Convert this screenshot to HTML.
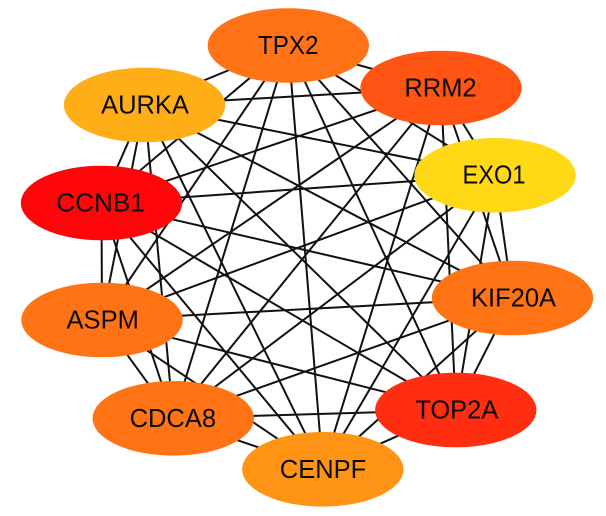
<!DOCTYPE html>
<html>
<head>
<meta charset="utf-8">
<style>
html,body{margin:0;padding:0;background:#fff;width:606px;height:516px;overflow:hidden}
svg{display:block}
text{font-family:"Liberation Sans",Arial,sans-serif;font-size:25.5px;fill:#0a0a0a;text-anchor:middle}
line{stroke:#111;stroke-width:2}
</style>
</head>
<body>
<svg width="606" height="516" viewBox="0 0 606 516" xmlns="http://www.w3.org/2000/svg">
<g>
<line x1="288.3" y1="45.5" x2="441" y2="88"/>
<line x1="288.3" y1="45.5" x2="495" y2="175.3"/>
<line x1="288.3" y1="45.5" x2="512.5" y2="298"/>
<line x1="288.3" y1="45.5" x2="455.8" y2="410"/>
<line x1="288.3" y1="45.5" x2="322.8" y2="469.3"/>
<line x1="288.3" y1="45.5" x2="173.3" y2="418.3"/>
<line x1="288.3" y1="45.5" x2="102" y2="320"/>
<line x1="288.3" y1="45.5" x2="101.5" y2="203"/>
<line x1="288.3" y1="45.5" x2="144.5" y2="105"/>
<line x1="441" y1="88" x2="495" y2="175.3"/>
<line x1="441" y1="88" x2="512.5" y2="298"/>
<line x1="441" y1="88" x2="455.8" y2="410"/>
<line x1="441" y1="88" x2="322.8" y2="469.3"/>
<line x1="441" y1="88" x2="173.3" y2="418.3"/>
<line x1="441" y1="88" x2="102" y2="320"/>
<line x1="441" y1="88" x2="101.5" y2="203"/>
<line x1="441" y1="88" x2="144.5" y2="105"/>
<line x1="495" y1="175.3" x2="512.5" y2="298"/>
<line x1="495" y1="175.3" x2="455.8" y2="410"/>
<line x1="495" y1="175.3" x2="322.8" y2="469.3"/>
<line x1="495" y1="175.3" x2="173.3" y2="418.3"/>
<line x1="495" y1="175.3" x2="102" y2="320"/>
<line x1="495" y1="175.3" x2="101.5" y2="203"/>
<line x1="495" y1="175.3" x2="144.5" y2="105"/>
<line x1="512.5" y1="298" x2="455.8" y2="410"/>
<line x1="512.5" y1="298" x2="322.8" y2="469.3"/>
<line x1="512.5" y1="298" x2="173.3" y2="418.3"/>
<line x1="512.5" y1="298" x2="102" y2="320"/>
<line x1="512.5" y1="298" x2="101.5" y2="203"/>
<line x1="512.5" y1="298" x2="144.5" y2="105"/>
<line x1="455.8" y1="410" x2="322.8" y2="469.3"/>
<line x1="455.8" y1="410" x2="173.3" y2="418.3"/>
<line x1="455.8" y1="410" x2="102" y2="320"/>
<line x1="455.8" y1="410" x2="101.5" y2="203"/>
<line x1="455.8" y1="410" x2="144.5" y2="105"/>
<line x1="322.8" y1="469.3" x2="173.3" y2="418.3"/>
<line x1="322.8" y1="469.3" x2="102" y2="320"/>
<line x1="322.8" y1="469.3" x2="101.5" y2="203"/>
<line x1="322.8" y1="469.3" x2="144.5" y2="105"/>
<line x1="173.3" y1="418.3" x2="102" y2="320"/>
<line x1="173.3" y1="418.3" x2="101.5" y2="203"/>
<line x1="173.3" y1="418.3" x2="144.5" y2="105"/>
<line x1="102" y1="320" x2="101.5" y2="203"/>
<line x1="102" y1="320" x2="144.5" y2="105"/>
<line x1="101.5" y1="203" x2="144.5" y2="105"/>
</g>
<g>
<ellipse cx="288.3" cy="45.5" rx="80.7" ry="37.3" fill="#FF7316"/>
<ellipse cx="441" cy="88" rx="80.7" ry="37.3" fill="#FF5413"/>
<ellipse cx="495" cy="175.3" rx="80.7" ry="37.3" fill="#FFD916"/>
<ellipse cx="512.5" cy="298" rx="80.7" ry="37.3" fill="#FF7314"/>
<ellipse cx="455.8" cy="410" rx="80.7" ry="37.3" fill="#FF2E10"/>
<ellipse cx="322.8" cy="469.3" rx="80.7" ry="37.3" fill="#FF9414"/>
<ellipse cx="173.3" cy="418.3" rx="80.7" ry="37.3" fill="#FF7314"/>
<ellipse cx="102" cy="320" rx="80.7" ry="37.3" fill="#FF7314"/>
<ellipse cx="101.5" cy="203" rx="80.7" ry="37.3" fill="#FF060B"/>
<ellipse cx="144.5" cy="105" rx="80.7" ry="37.3" fill="#FFAE18"/>
</g>
<g>
<text x="288.2" y="54" textLength="60.5" lengthAdjust="spacingAndGlyphs">TPX2</text>
<text x="440.5" y="96.7">RRM2</text>
<text x="494" y="183.7" textLength="63" lengthAdjust="spacingAndGlyphs">EXO1</text>
<text x="513.5" y="306.7">KIF20A</text>
<text x="456.8" y="418.7">TOP2A</text>
<text x="323" y="478">CENPF</text>
<text x="172.8" y="427">CDCA8</text>
<text x="102.7" y="328.7">ASPM</text>
<text x="100.5" y="211.7" textLength="88.5" lengthAdjust="spacingAndGlyphs">CCNB1</text>
<text x="145" y="113.7">AURKA</text>
</g>
</svg>
</body>
</html>
